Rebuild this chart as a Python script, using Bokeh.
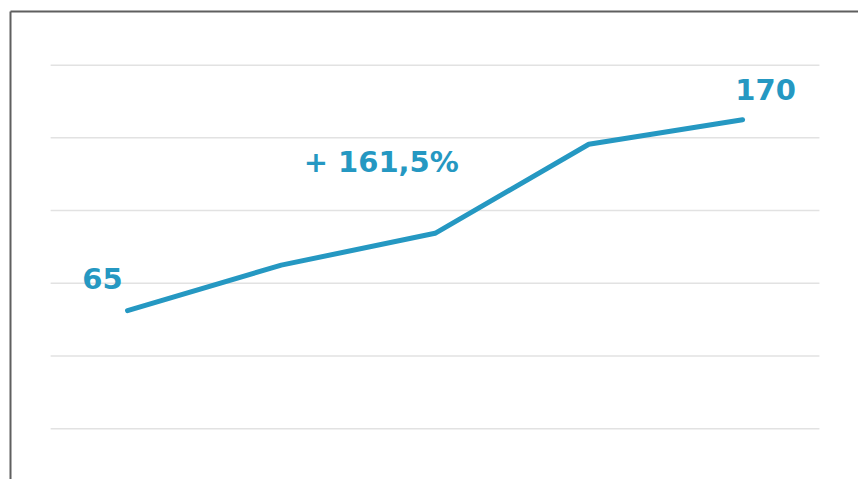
from bokeh.plotting import figure
from bokeh.models import Range1d, FixedTicker, ColumnDataSource
from bokeh.core.properties import value
from bokeh.embed import file_html
from bokeh.resources import INLINE

# ---- data ----
periods = [0, 1, 2, 3, 4]
values = [65, 90, 107.5, 156.5, 170]
grid_levels = [0, 40, 80, 120, 160, 200]
start_label = "65"
end_label = "170"
growth_label = "+ 161,5%"
growth_pos = (1.65, 147)

BLUE = "#2598C2"
FONT = value("DejaVu Sans")

p = figure(width=858, height=479, output_backend="svg", toolbar_location=None,
           x_range=Range1d(-0.761, 4.754), y_range=Range1d(-27.9, 229.5),
           x_axis_location="above", y_axis_location="left",
           min_border_left=10, min_border_top=11, min_border_right=0, min_border_bottom=0)
p.outline_line_color = None
p.background_fill_color = "white"
p.border_fill_color = "white"
p.xgrid.visible = False
p.ygrid.visible = False

for ax in (p.xaxis[0], p.yaxis[0]):
    ax.ticker = FixedTicker(ticks=[])
    ax.major_tick_line_color = None
    ax.minor_tick_line_color = None
    ax.major_tick_out = 0
    ax.major_tick_in = 0
    ax.major_label_standoff = 0
    ax.axis_line_color = "#5f5f5f"
    ax.axis_line_width = 2

# partial-width grid lines
gsrc = ColumnDataSource(dict(x0=[periods[0] - 0.5] * len(grid_levels),
                             x1=[periods[-1] + 0.5] * len(grid_levels),
                             y=grid_levels))
p.segment(x0="x0", y0="y", x1="x1", y1="y", source=gsrc,
          line_color="#e2e2e2", line_width=1.5)

p.line(periods, values, line_color=BLUE, line_width=5, line_cap="round", line_join="round")

common = dict(text_color=BLUE, text_font=FONT, text_font_style="bold",
              text_font_size="29px", text_align="center", text_baseline="middle")
p.text(x=[periods[0]], y=[values[0]], text=[start_label],
       x_offset=-25, y_offset=-32, **common)
p.text(x=[periods[-1]], y=[values[-1]], text=[end_label],
       x_offset=23, y_offset=-30, **common)
p.text(x=[growth_pos[0]], y=[growth_pos[1]], text=[growth_label], **common)

open("out.html", "w").write(file_html(p, INLINE))
